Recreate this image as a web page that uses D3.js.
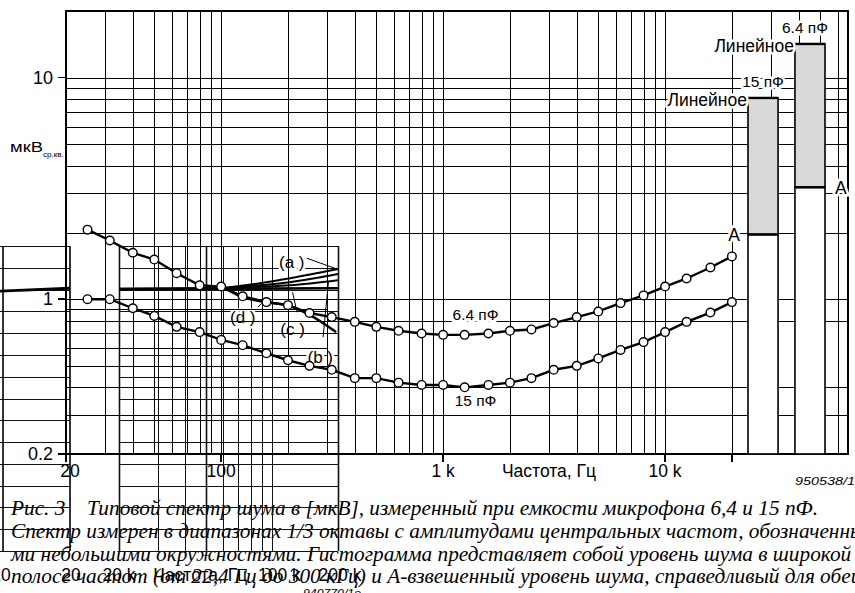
<!DOCTYPE html>
<html>
<head>
<meta charset="utf-8">
<script src="https://cdn.jsdelivr.net/npm/d3@7"></script>
<style>
  body { margin: 0; background: #fff; }
  text { font-family: "Liberation Sans", Arial, sans-serif; fill: #000; }
  .caption { font-family: "Liberation Serif", "Times New Roman", serif; font-style: italic; }
</style>
</head>
<body>
<div class="canvas"></div>
<script>
// 1/3 octave centre frequencies and measured noise (мкВ ср.кв.)
const freqs = [25, 31.5, 40, 50, 63, 80, 100, 125, 160, 200, 250, 315, 400, 500, 630, 800,
  1000, 1250, 1600, 2000, 2500, 3150, 4000, 5000, 6300, 8000, 10000, 12500, 16000, 20000]
const noise64 = [2.06, 1.84, 1.62, 1.51, 1.31, 1.155, 1.14, 1.03, 0.97, 0.94, 0.866, 0.83, 0.79, 0.75, 0.72, 0.70,
  0.69, 0.69, 0.70, 0.72, 0.73, 0.78, 0.83, 0.88, 0.96, 1.04, 1.14, 1.24, 1.39, 1.56]
const noise15 = [1.0, 1.0, 0.91, 0.84, 0.75, 0.71, 0.655, 0.62, 0.57, 0.53, 0.50, 0.48, 0.44, 0.44, 0.42, 0.41,
  0.41, 0.40, 0.41, 0.42, 0.44, 0.48, 0.50, 0.54, 0.59, 0.64, 0.71, 0.79, 0.87, 0.97]

// wide band bars
const barCaps = ["15 пФ", "6.4 пФ"]
const barLinear = [8.1, 14.2]
const barAweighted = [1.96, 3.2]

// axes
const xTickVals = [20, 100, 1000, 10000, 20000]
const xTickLabels = ["20", "100", "1 k", "10 k", ""]
const yTickVals = [10, 1, 0.2]
const yTickLabels = ["10", "1", "0.2"]

// overlapping second figure (940770/1e)
const insetFlatF = [20000, 200000]
const insetFlatV = [12.02, 12.06]
const insetLeftF = [9.7, 20]
const insetLeftV = [11.93, 12.06]
const insetAF = [58400, 88000, 120800, 200000]
const insetA1 = [12.06, 12.29, 12.52, 12.94]
const insetA2 = [12.06, 12.20, 12.34, 12.71]
const insetA3 = [12.06, 12.13, 12.20, 12.43]
const insetCF = [20000, 58400, 73500, 94800, 117000, 149000, 196000]
const insetCV = [12.02, 12.06, 11.65, 11.42, 11.28, 10.83, 10.05]
const insetLabels = ["(a )", "(b )", "(c )", "(d )"]
const insetLabelF = [123000, 166000, 124000, 73500]
const insetLabelV = [13.26, 8.9, 10.18, 10.73]

const captionLines = [
  "Спектр измерен в диапазонах 1/3 октавы с амплитудами центральных частот, обозначенными",
  "ми небольшими окружностями. Гистограмма представляет собой уровень шума в широкой",
  "полосе частот (от 22,4 Гц до 300 кГц) и A-взвешенный уровень шума, справедливый для обеих"
]

const width = 855
const height = 593
const svg = d3.select(".canvas").append("svg")
  .attr("width", width)
  .attr("height", height)

// main chart scales
const x = d3.scaleLog().domain([20, 66700]).range([66, 848])
const y = d3.scaleLog().domain([0.2, 20]).range([454, 11])

// inset scales
const ix = d3.scaleLog().domain([20000, 200000]).range([119, 338])
const ixL = d3.scaleLog().domain([10, 20]).range([3, 70])
const iy = d3.scaleLinear().domain([0, 14]).range([551, 246])

// ---------- caption ----------
const cap = svg.append("g").attr("class", "caption").style("font-size", "21.3px")
cap.append("text").attr("class", "caption").attr("x", 11).attr("y", 515).text("Рис. 3")
cap.append("text").attr("class", "caption").attr("x", 87).attr("y", 515)
  .text("Типовой спектр шума в [мкВ], измеренный при емкости микрофона 6,4 и 15 пФ.")
cap.selectAll(".cl").data(captionLines).enter().append("text")
  .attr("class", "caption cl")
  .attr("x", 11)
  .attr("y", (d, i) => 538 + i * 22.5)
  .text(d => d)

// ---------- inset figure ----------
const inset = svg.append("g")
const rows = d3.range(0, 15)
inset.selectAll(".hl").data(rows).enter().append("line")
  .attr("x1", ixL(9.7)).attr("x2", ixL(20))
  .attr("y1", d => Math.round(iy(d)) + 0.5).attr("y2", d => Math.round(iy(d)) + 0.5)
  .attr("stroke", "#111").attr("stroke-width", 1)
inset.selectAll(".hr").data(rows).enter().append("line")
  .attr("x1", ix(20000)).attr("x2", ix(200000))
  .attr("y1", d => Math.round(iy(d)) + 0.5).attr("y2", d => Math.round(iy(d)) + 0.5)
  .attr("stroke", "#111").attr("stroke-width", 1)
const insetCols = [20000, 30000, 40000, 50000, 60000, 70000, 80000, 90000, 100000, 200000]
inset.selectAll(".vr").data(insetCols).enter().append("line")
  .attr("x1", d => Math.round(ix(d)) + 0.5).attr("x2", d => Math.round(ix(d)) + 0.5)
  .attr("y1", iy(14)).attr("y2", iy(0))
  .attr("stroke", "#111").attr("stroke-width", d => (d == 20000 || d == 200000 || d == 50000) ? 1.6 : 1)
inset.selectAll(".vl").data([10, 20]).enter().append("line")
  .attr("x1", d => ixL(d)).attr("x2", d => ixL(d))
  .attr("y1", iy(14)).attr("y2", iy(0))
  .attr("stroke", "#000").attr("stroke-width", 1.6)

const iline = d3.line().x(d => ix(d[0])).y(d => iy(d[1]))
const icurve = d3.line().curve(d3.curveMonotoneX).x(d => ix(d[0])).y(d => iy(d[1]))
const ilineL = d3.line().x(d => ixL(d[0])).y(d => iy(d[1]))
inset.append("path").attr("d", ilineL(d3.zip(insetLeftF, insetLeftV)))
  .attr("fill", "none").attr("stroke", "#000").attr("stroke-width", 2.8)
inset.append("path").attr("d", iline(d3.zip(insetFlatF, insetFlatV)))
  .attr("fill", "none").attr("stroke", "#000").attr("stroke-width", 2.6)
;[insetA1, insetA2, insetA3].forEach(v => {
  inset.append("path").attr("d", icurve(d3.zip(insetAF, v)))
    .attr("fill", "none").attr("stroke", "#000").attr("stroke-width", 2)
})
inset.append("path")
  .attr("d", icurve(d3.zip(insetCF, insetCV)))
  .attr("fill", "none").attr("stroke", "#000").attr("stroke-width", 2.6)

// leader lines
const leaders = [
  [[144000, 13.44], [193000, 12.98]],
  [[124000, 11.88], [130000, 10.96]],
  [[181000, 12.39], [171000, 9.82]],
  [[86000, 11.19], [91000, 11.42]]
]
leaders.forEach(l => {
  inset.append("path").attr("d", iline(l)).attr("stroke", "#000").attr("stroke-width", 1).attr("fill", "none")
})
inset.selectAll(".ilab").data(insetLabels).enter().append("text")
  .attr("x", (d, i) => ix(insetLabelF[i]))
  .attr("y", (d, i) => iy(insetLabelV[i]) + 6)
  .attr("text-anchor", "middle")
  .style("font-size", "17px")
  .attr("paint-order", "stroke").attr("stroke", "#fff").attr("stroke-width", 5)
  .text(d => d)

// inset x labels
const insetXTicks = [
  { s: ixL, f: 10, t: "10", dx: -2 }, { s: ixL, f: 20, t: "20", dx: 1 },
  { s: ix, f: 20000, t: "20 k", dx: 0 }, { s: ix, f: 47000, t: "Частота, Гц", dx: 0 },
  { s: ix, f: 108000, t: "100 k", dx: 0 }, { s: ix, f: 200000, t: "200 k", dx: 2 }
]
inset.selectAll(".ixt").data(insetXTicks).enter().append("text")
  .attr("x", d => d.s(d.f) + d.dx)
  .attr("y", 581)
  .attr("text-anchor", "middle")
  .style("font-size", "17.5px")
  .text(d => d.t)
inset.append("text").attr("x", 303).attr("y", 597)
  .style("font-size", "11px").style("font-style", "italic")
  .attr("textLength", 58).attr("lengthAdjust", "spacingAndGlyphs")
  .text("940770/1e")

// ---------- main chart grid ----------
const grid = svg.append("g").attr("shape-rendering", "crispEdges")
const vGrid = []
;[10, 100, 1000, 10000].forEach(dec => {
  for (let k = 1; k <= 9; k++) {
    const f = k * dec
    if (f > 20 && f <= 60000) vGrid.push(f)
  }
})
grid.selectAll(".vg").data(vGrid).enter().append("line")
  .attr("x1", d => Math.round(x(d)) + 0.5).attr("x2", d => Math.round(x(d)) + 0.5)
  .attr("y1", y(20)).attr("y2", y(0.2))
  .attr("stroke", "#000").attr("stroke-width", 1)

const hGridFull = [10, 9, 8, 7, 6, 5, 4, 3, 2, 1, 0.8, 0.4, 0.3]
const hGridPart = [0.9, 0.7, 0.6, 0.5]
grid.selectAll(".hg").data(hGridFull).enter().append("line")
  .attr("x1", x(20)).attr("x2", x(66700))
  .attr("y1", d => Math.round(y(d)) + 0.5).attr("y2", d => Math.round(y(d)) + 0.5)
  .attr("stroke", "#000").attr("stroke-width", 1)
grid.selectAll(".hp").data(hGridPart).enter().append("line")
  .attr("x1", x(20)).attr("x2", x(300))
  .attr("y1", d => Math.round(y(d)) + 0.5).attr("y2", d => Math.round(y(d)) + 0.5)
  .attr("stroke", "#000").attr("stroke-width", 1)

// frame
grid.append("rect")
  .attr("x", x(20)).attr("y", y(20))
  .attr("width", x(66700) - x(20)).attr("height", y(0.2) - y(20))
  .attr("fill", "none").attr("stroke", "#000").attr("stroke-width", 2)

// ticks
grid.selectAll(".xt").data(xTickVals).enter().append("line")
  .attr("x1", d => x(d)).attr("x2", d => x(d))
  .attr("y1", y(0.2)).attr("y2", y(0.2) + 8)
  .attr("stroke", "#000").attr("stroke-width", 1.5)
grid.selectAll(".xtl").data(xTickVals).enter().append("text")
  .attr("x", (d, i) => x(d) + (i == 0 ? 4 : 0))
  .attr("y", y(0.2) + 23)
  .attr("text-anchor", "middle")
  .style("font-size", "17.5px")
  .text((d, i) => xTickLabels[i])
grid.append("text").attr("x", x(3000)).attr("y", y(0.2) + 23)
  .attr("text-anchor", "middle").style("font-size", "17.5px").text("Частота, Гц")
grid.append("text").attr("x", 795).attr("y", y(0.2) + 31)
  .style("font-size", "11.5px").style("font-style", "italic")
  .attr("textLength", 68).attr("lengthAdjust", "spacingAndGlyphs")
  .text("950538/1e")

grid.selectAll(".yt").data(yTickVals).enter().append("line")
  .attr("x1", x(20) - 8).attr("x2", x(20))
  .attr("y1", d => y(d)).attr("y2", d => y(d))
  .attr("stroke", "#000").attr("stroke-width", 1.5)
grid.selectAll(".ytl").data(yTickVals).enter().append("text")
  .attr("x", x(20) - 13)
  .attr("y", d => y(d) + 6)
  .attr("text-anchor", "end")
  .style("font-size", "18px")
  .text((d, i) => yTickLabels[i])

const ylab = grid.append("text").attr("x", 10).attr("y", 152).style("font-size", "14px")
ylab.append("tspan").attr("textLength", 33).attr("lengthAdjust", "spacingAndGlyphs").text("мкВ")
ylab.append("tspan").attr("x", 43).attr("dy", 5).style("font-size", "8px").text("ср.кв.")

// ---------- bars ----------
const bx = d3.scaleBand().domain(barCaps).range([748, 825]).paddingInner(0.36)
const bars = svg.append("g")
barCaps.forEach((c, i) => {
  const x0 = bx(c), bw = bx.bandwidth()
  bars.append("rect").attr("x", x0).attr("y", y(barAweighted[i]))
    .attr("width", bw).attr("height", y(0.2) - y(barAweighted[i]))
    .attr("fill", "#fff").attr("stroke", "#000").attr("stroke-width", 1.6)
  bars.append("rect").attr("x", x0).attr("y", y(barLinear[i]))
    .attr("width", bw).attr("height", y(barAweighted[i]) - y(barLinear[i]))
    .attr("fill", "#d9d9d9").attr("stroke", "#000").attr("stroke-width", 1.6)
  bars.append("line").attr("x1", x0).attr("x2", x0 + bw)
    .attr("y1", y(barLinear[i])).attr("y2", y(barLinear[i]))
    .attr("stroke", "#000").attr("stroke-width", 2.4)
  bars.append("line").attr("x1", x0).attr("x2", x0 + bw)
    .attr("y1", y(barAweighted[i])).attr("y2", y(barAweighted[i]))
    .attr("stroke", "#000").attr("stroke-width", 2.4)

  const halo = sel => sel.attr("paint-order", "stroke").attr("stroke", "#fff").attr("stroke-width", 5)
  bars.append("text").call(halo).style("font-size", "17.5px")
    .attr("x", x0 - 1).attr("y", y(barLinear[i]) + 8)
    .attr("text-anchor", "end").text("Линейное")
  bars.append("text").call(halo).style("font-size", "15.5px")
    .attr("x", x0 + bw / 2 - (i ? 5 : 0)).attr("y", y(barLinear[i]) - 11)
    .attr("text-anchor", "middle").text(c)
  bars.append("text").call(halo).style("font-size", "17.5px")
    .attr("x", i ? x0 + bw + 10 : x0 - 8).attr("y", y(barAweighted[i]) + 7)
    .attr("text-anchor", i ? "start" : "end").text("A")
})

// ---------- noise curves ----------
const line = d3.line().x(d => x(d[0])).y(d => y(d[1]))
const series = [noise64, noise15]
series.forEach(s => {
  const pts = d3.zip(freqs, s)
  svg.append("path").attr("d", line(pts))
    .attr("fill", "none").attr("stroke", "#000").attr("stroke-width", 2.4)
  svg.append("g").selectAll("circle").data(pts).enter().append("circle")
    .attr("cx", d => x(d[0])).attr("cy", d => y(d[1]))
    .attr("r", 4.3)
    .attr("fill", "#fff").attr("stroke", "#000").attr("stroke-width", 1.4)
})

// curve labels
svg.selectAll(".clab").data(["6.4 пФ", "15 пФ"]).enter().append("text")
  .attr("x", x(1400))
  .attr("y", (d, i) => i ? y(0.315) - 4 : y(0.8) - 1)
  .attr("text-anchor", "middle")
  .style("font-size", "15.5px")
  .attr("paint-order", "stroke").attr("stroke", "#fff").attr("stroke-width", 6)
  .text(d => d)
</script>
</body>
</html>
